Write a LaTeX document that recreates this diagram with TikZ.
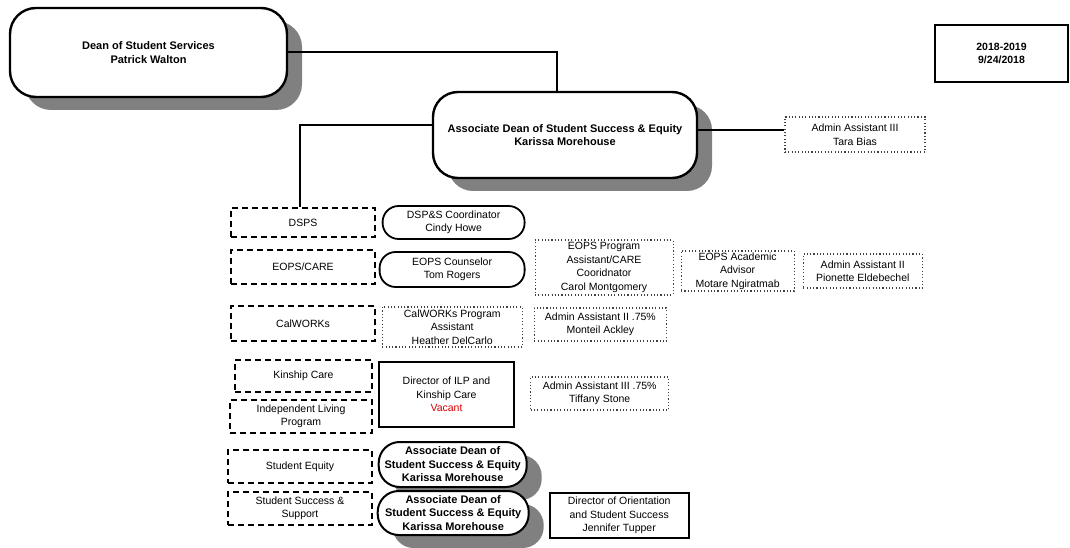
\documentclass[tikz,border=0pt]{standalone}
\usepackage{fontspec}
\setmainfont{Liberation Sans}
\usetikzlibrary{shadows, positioning}
\colorlet{drawColor}{black}
\colorlet{shadowColor}{black!50}
\colorlet{dotColor}{black!75}
\colorlet{vacantColor}{red!85!black}
\tikzstyle{oBase}=[rectangle, align=center, inner sep=1pt, fill=white,
font=\fontsize{10.5}{13.5}\selectfont]
\tikzstyle{oShadow}=[drop shadow={shadow xshift=15pt, shadow yshift=-13pt,
fill=shadowColor, opacity=1}]
\tikzstyle{oHead}=[oBase, oShadow, rounded corners=26pt, line width=2.4pt,
draw=drawColor, font=\fontsize{11}{13.5}\selectfont\bfseries]
\tikzstyle{oUnit}=[oBase, draw=drawColor, line width=1.4pt, dash pattern=on 6pt off 4pt]
\tikzstyle{oStaff}=[oBase, draw=dotColor, line width=1.1pt, dash pattern=on 1.1pt off 2.2pt]
\tikzstyle{oLead}=[oBase, draw=drawColor, line width=1.8pt, rounded corners=16pt]
\tikzstyle{oLeadBold}=[oLead, oShadow, rounded corners=21pt, line width=2pt,
font=\fontsize{11}{13.5}\selectfont\bfseries]
\tikzstyle{oDirector}=[oBase, draw=drawColor, line width=2.2pt]
\tikzstyle{link}=[line width=2pt, draw=drawColor]

\begin{document}
\begin{tikzpicture}[x=1pt, y=-1pt]
    \useasboundingbox (0,0) rectangle (1070,548);
    % top of the chart
    \node (dean) [oHead, minimum width=277pt, minimum height=89pt] at (148.5,52.5)
      {Dean of Student Services\\Patrick Walton};
    \node (assocDean) [oHead, rounded corners=25pt, minimum width=264pt, minimum height=86pt]
      at (565,135) {Associate Dean of Student Success \& Equity\\Karissa Morehouse};
    \node (adminTara) [oStaff, minimum width=140pt, minimum height=35pt] at (855,134.5)
      {Admin Assistant III\\Tara Bias};
    \node (yearBox) [oBase, draw=drawColor, line width=1.6pt, minimum width=133pt,
      minimum height=57pt, font=\fontsize{10.5}{13}\selectfont\bfseries] at (1001.5,53.5)
      {2018-2019\\9/24/2018};
    % units
    \node (dsps) [oUnit, minimum width=144pt, minimum height=29pt] at (303,222.5) {DSPS};
    \node (eopsCare) [oUnit, minimum width=144pt, minimum height=34pt] at (303,267) {EOPS/CARE};
    \node (calWorks) [oUnit, minimum width=144pt, minimum height=35pt] at (303,323.5) {CalWORKs};
    \node (kinship) [oUnit, minimum width=137pt, minimum height=32pt] at (303.5,376) {Kinship Care};
    \node (ilp) [oUnit, minimum width=142pt, minimum height=33pt] at (301,416.5)
      {Independent Living\\Program};
    \node (equity) [oUnit, minimum width=144pt, minimum height=33pt] at (300,466.5) {Student Equity};
    \node (successSupport) [oUnit, minimum width=144pt, minimum height=33pt] at (300,508.5)
      {Student Success \&\\Support};
    % staff
    \node (dspsCoord) [oLead, right=6pt of dsps, minimum width=142pt, minimum height=33pt]
      {DSP\&S Coordinator\\Cindy Howe};
    \node (eopsCounselor) [oLead, right=3pt of eopsCare, yshift=-2.5pt, minimum width=145pt,
      minimum height=35pt] {EOPS Counselor\\Tom Rogers};
    \node (eopsProgram) [oStaff, right=9pt of eopsCounselor, yshift=2pt, minimum width=138pt,
      minimum height=55pt] {EOPS Program\\Assistant/CARE\\Cooridnator\\Carol Montgomery};
    \node (eopsAdvisor) [oStaff, right=7pt of eopsProgram, yshift=-3.5pt, minimum width=113pt,
      minimum height=40pt] {EOPS Academic\\Advisor\\Motare Ngiratmab};
    \node (adminPionette) [oStaff, right=8pt of eopsAdvisor, minimum width=119pt,
      minimum height=34pt] {Admin Assistant II\\Pionette Eldebechel};
    \node (calWorksAsst) [oStaff, right=6pt of calWorks, yshift=-3.5pt, minimum width=140pt,
      minimum height=40pt] {CalWORKs Program\\Assistant\\Heather DelCarlo};
    \node (adminMonteil) [oStaff, right=11pt of calWorksAsst, yshift=2.5pt, minimum width=132pt,
      minimum height=33pt] {Admin Assistant II .75\%\\Monteil Ackley};
    \node (ilpDirector) [oDirector, minimum width=135pt, minimum height=65pt] at (446.5,394.5)
      {Director of ILP and\\Kinship Care\\\textcolor{vacantColor}{Vacant}};
    \node (adminTiffany) [oStaff, right=15pt of ilpDirector, yshift=1pt, minimum width=138pt,
      minimum height=33pt] {Admin Assistant III .75\%\\Tiffany Stone};
    \node (equityDean) [oLeadBold, right=5pt of equity, yshift=2pt, minimum width=148pt,
      minimum height=45pt] {Associate Dean of\\Student Success \& Equity\\Karissa Morehouse};
    \node (successDean) [oLeadBold, right=4pt of successSupport, yshift=-4.5pt, minimum width=151pt,
      minimum height=44pt] {Associate Dean of\\Student Success \& Equity\\Karissa Morehouse};
    \node (orientDirector) [oDirector, line width=2pt, right=19pt of successDean, yshift=-2.5pt,
      minimum width=139pt, minimum height=45pt]
      {Director of Orientation\\and Student Success\\Jennifer Tupper};
    % reporting lines
    \draw [link] (dean.east) -| ([xshift=-8pt]assocDean.north);
    \draw [link] ([yshift=10pt]assocDean.west) -| ([xshift=-3pt]dsps.north);
    \draw [link] ([yshift=5pt]assocDean.east) -- ([yshift=5pt]assocDean.east -| adminTara.west);
  \end{tikzpicture}
\end{document}
